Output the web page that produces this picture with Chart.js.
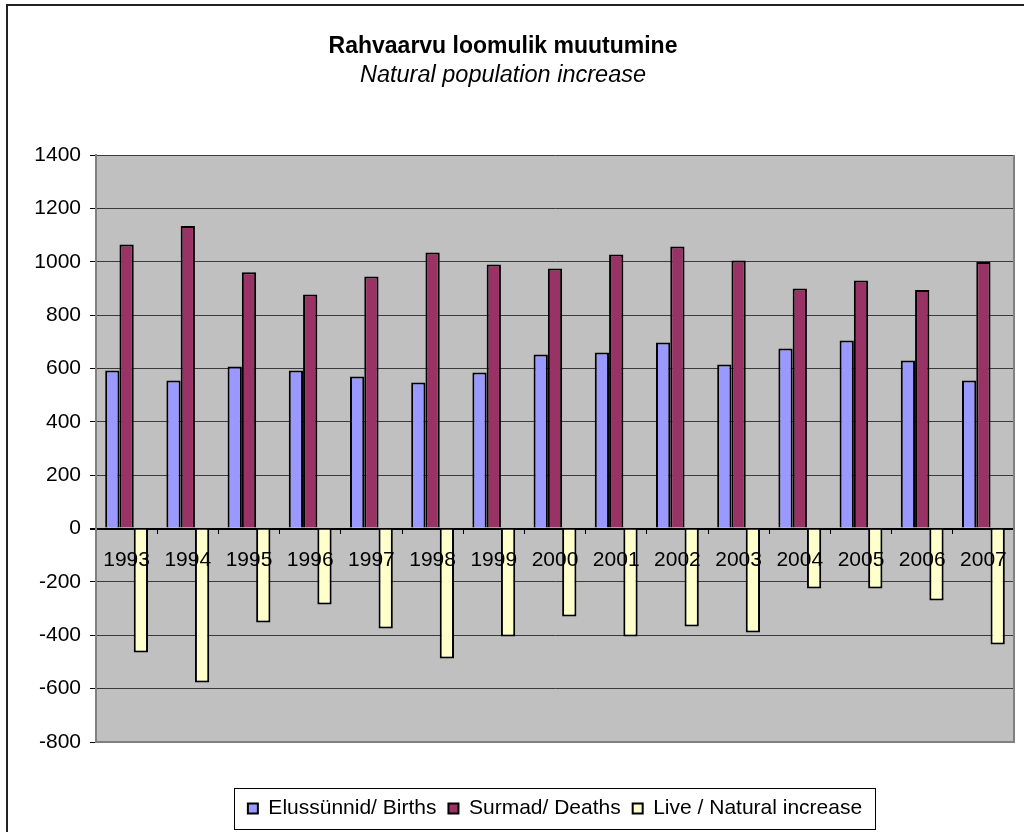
<!DOCTYPE html>
<html lang="et">
<head>
<meta charset="UTF-8">
<title>Rahvaarvu loomulik muutumine</title>
<style>
  body { margin: 0; background: #fff; }
  #wrap { width: 1024px; height: 832px; }
</style>
</head>
<body>
<div id="wrap"><canvas id="chart" width="1024" height="832"></canvas></div>

<script src="https://cdn.jsdelivr.net/npm/chart.js"></script>
<script>
// data
const years = ["1993", "1994", "1995", "1996", "1997", "1998", "1999", "2000",
               "2001", "2002", "2003", "2004", "2005", "2006", "2007"];
const births = [592, 555, 607, 592, 570, 547, 585, 652, 660, 697, 615, 675, 705, 630, 555];
const deaths = [1065, 1134, 961, 877, 945, 1035, 990, 975, 1027, 1057, 1005, 900, 930, 894, 999];
const natural = [-465, -577, -352, -285, -375, -487, -405, -330, -405, -367, -390, -225, -225, -270, -435];
const yTicks = [-800, -600, -400, -200, 0, 200, 400, 600, 800, 1000, 1200, 1400];
const seriesNames = ["Elussünnid/ Births", "Surmad/ Deaths", "Live / Natural increase"];
const titleText = "Rahvaarvu loomulik muutumine";
const subtitleText = "Natural population increase";

const FONT = '"Liberation Sans", Arial, sans-serif';
Chart.defaults.font.family = FONT;
Chart.defaults.color = "#000";

// grey plot area, outer frame, legend box and titles
const decor = {
  id: "decor",
  beforeDraw(chart) {
    const { ctx, chartArea: a } = chart;
    ctx.save();
    ctx.fillStyle = "#c0c0c0";
    ctx.fillRect(a.left, a.top, a.right - a.left, a.bottom - a.top);
    ctx.strokeStyle = "#222";
    ctx.lineWidth = 2;
    ctx.strokeRect(7, 5, 1100, 1000);
    ctx.restore();
  },
  afterDraw(chart) {
    const { ctx, chartArea: a, legend } = chart;
    ctx.save();
    // plot frame right / bottom
    ctx.strokeStyle = "#808080";
    ctx.lineWidth = 2;
    ctx.beginPath();
    ctx.moveTo(a.right, a.top);
    ctx.lineTo(a.right, a.bottom);
    ctx.lineTo(a.left, a.bottom);
    ctx.stroke();

    // legend border
    const hb = legend.legendHitBoxes;
    const l = hb[0].left - 14;
    const r = hb[hb.length - 1].left + hb[hb.length - 1].width + 13;
    ctx.strokeStyle = "#000";
    ctx.lineWidth = 1;
    ctx.strokeRect(Math.round(l) + 0.5, Math.round(legend.top + 2) + 0.5, Math.round(r - l), Math.round(legend.height) - 2);

    // titles
    ctx.fillStyle = "#000";
    ctx.textAlign = "center";
    ctx.textBaseline = "alphabetic";
    ctx.font = "bold 23px " + FONT;
    ctx.fillText(titleText, 503, 53);
    ctx.font = "italic 23.5px " + FONT;
    ctx.fillText(subtitleText, 503, 82);
    ctx.restore();
  }
};

const ctx = document.getElementById("chart");
const chart = new Chart(ctx, {
  type: "bar",
  data: {
    labels: years,
    datasets: [
      { label: seriesNames[0], data: births, backgroundColor: "#9999ff" },
      { label: seriesNames[1], data: deaths, backgroundColor: "#993366" },
      { label: seriesNames[2], data: natural, backgroundColor: "#ffffcc" }
    ].map(d => Object.assign(d, {
      xAxisID: "x",
      borderColor: "#000",
      borderWidth: 2,
      barPercentage: 1,
      categoryPercentage: 0.7
    }))
  },
  options: {
    responsive: false,
    animation: false,
    devicePixelRatio: 1,
    layout: { padding: { top: 155, right: 10, bottom: 3, left: 0 } },
    plugins: {
      legend: {
        position: "bottom",
        fullSize: false,
        labels: { boxWidth: 10, boxHeight: 10, padding: 12, font: { size: 21 }, color: "#000" }
      },
      title: { display: false },
      tooltip: { enabled: false }
    },
    scales: {
      x: {
        position: { y: 0 },
        offset: true,
        grid: { drawOnChartArea: false, drawTicks: true, tickLength: 5, tickColor: "#000", offset: true },
        border: { display: false },
        ticks: { z: 1, color: "#000", font: { size: 21 }, padding: 14, maxRotation: 0, autoSkip: false },
        afterFit: s => { s.height = 0; }
      },
      gap: {
        type: "category",
        axis: "x",
        position: "bottom",
        grid: { display: false },
        ticks: { display: false },
        border: { display: false },
        afterFit: s => { s.height = 44; }
      },
      y: {
        min: yTicks[0],
        max: yTicks[yTicks.length - 1],
        afterBuildTicks: s => { s.ticks = yTicks.map(v => ({ value: v })); },
        grid: {
          color: c => (c.tick && c.tick.value === 0 ? "#000" : "#3a3a3a"),
          lineWidth: c => (c.tick && c.tick.value === 0 ? 2 : 1),
          tickLength: 6,
          tickColor: "#000"
        },
        border: { color: "#808080", width: 2 },
        ticks: { color: "#000", font: { size: 21 }, padding: 9, callback: v => String(v) },
        afterFit: s => { s.width = 96; }
      }
    }
  },
  plugins: [decor]
});
</script>
</body>
</html>
